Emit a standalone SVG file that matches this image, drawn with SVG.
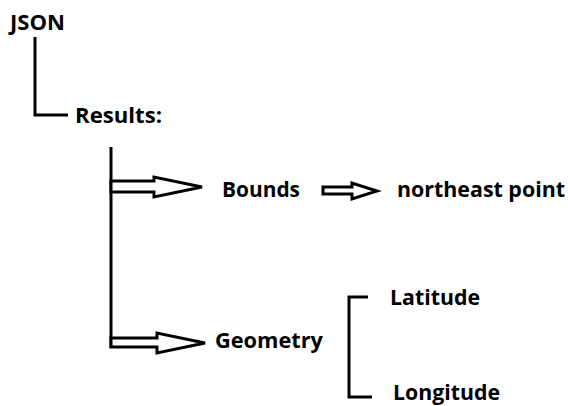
<svg xmlns="http://www.w3.org/2000/svg" width="568" height="406" viewBox="0 0 568 406">
<style>
.t{font-family:"Open Sans","Liberation Sans",Arial,sans-serif;font-weight:bold;font-size:21px;fill:#000}
.ln{fill:none;stroke:#000;stroke-width:3;stroke-linejoin:miter}
.ar{fill:#fff;stroke:#000;stroke-width:3;stroke-linejoin:miter}
</style>
<rect width="568" height="406" fill="#fff"/>
<g id="connectors">
<path class="ln" d="M35,37 V115 H68"/>
<path class="ln" d="M111,147 V348"/>
<polygon class="ar" points="111,181 154,181 154,177 202,187 154,197 154,192 111,192"/>
<polygon class="ar" points="111,338 157,338 157,333 205,343 157,353 157,347 111,347"/>
<polygon class="ar" points="323,187 352,187 352,183 377,191 352,199 352,194 323,194"/>
<path class="ln" d="M368,297 H349 V397 H372"/>
</g>
<g id="json"><text class="t" x="10" y="30" textLength="55" lengthAdjust="spacingAndGlyphs">JSON</text></g>
<g id="results"><text class="t" x="75" y="123" textLength="87" lengthAdjust="spacingAndGlyphs">Results:</text></g>
<g id="bounds"><text class="t" x="222" y="197" textLength="78" lengthAdjust="spacingAndGlyphs">Bounds</text></g>
<g id="northeast"><text class="t" x="397" y="197" textLength="168" lengthAdjust="spacingAndGlyphs">northeast point</text></g>
<g id="geometry"><text class="t" x="215" y="348" textLength="108" lengthAdjust="spacingAndGlyphs">Geometry</text></g>
<g id="latitude"><text class="t" x="390" y="305" textLength="90" lengthAdjust="spacingAndGlyphs">Latitude</text></g>
<g id="longitude"><text class="t" x="393" y="400" textLength="107" lengthAdjust="spacingAndGlyphs">Longitude</text></g>
</svg>
